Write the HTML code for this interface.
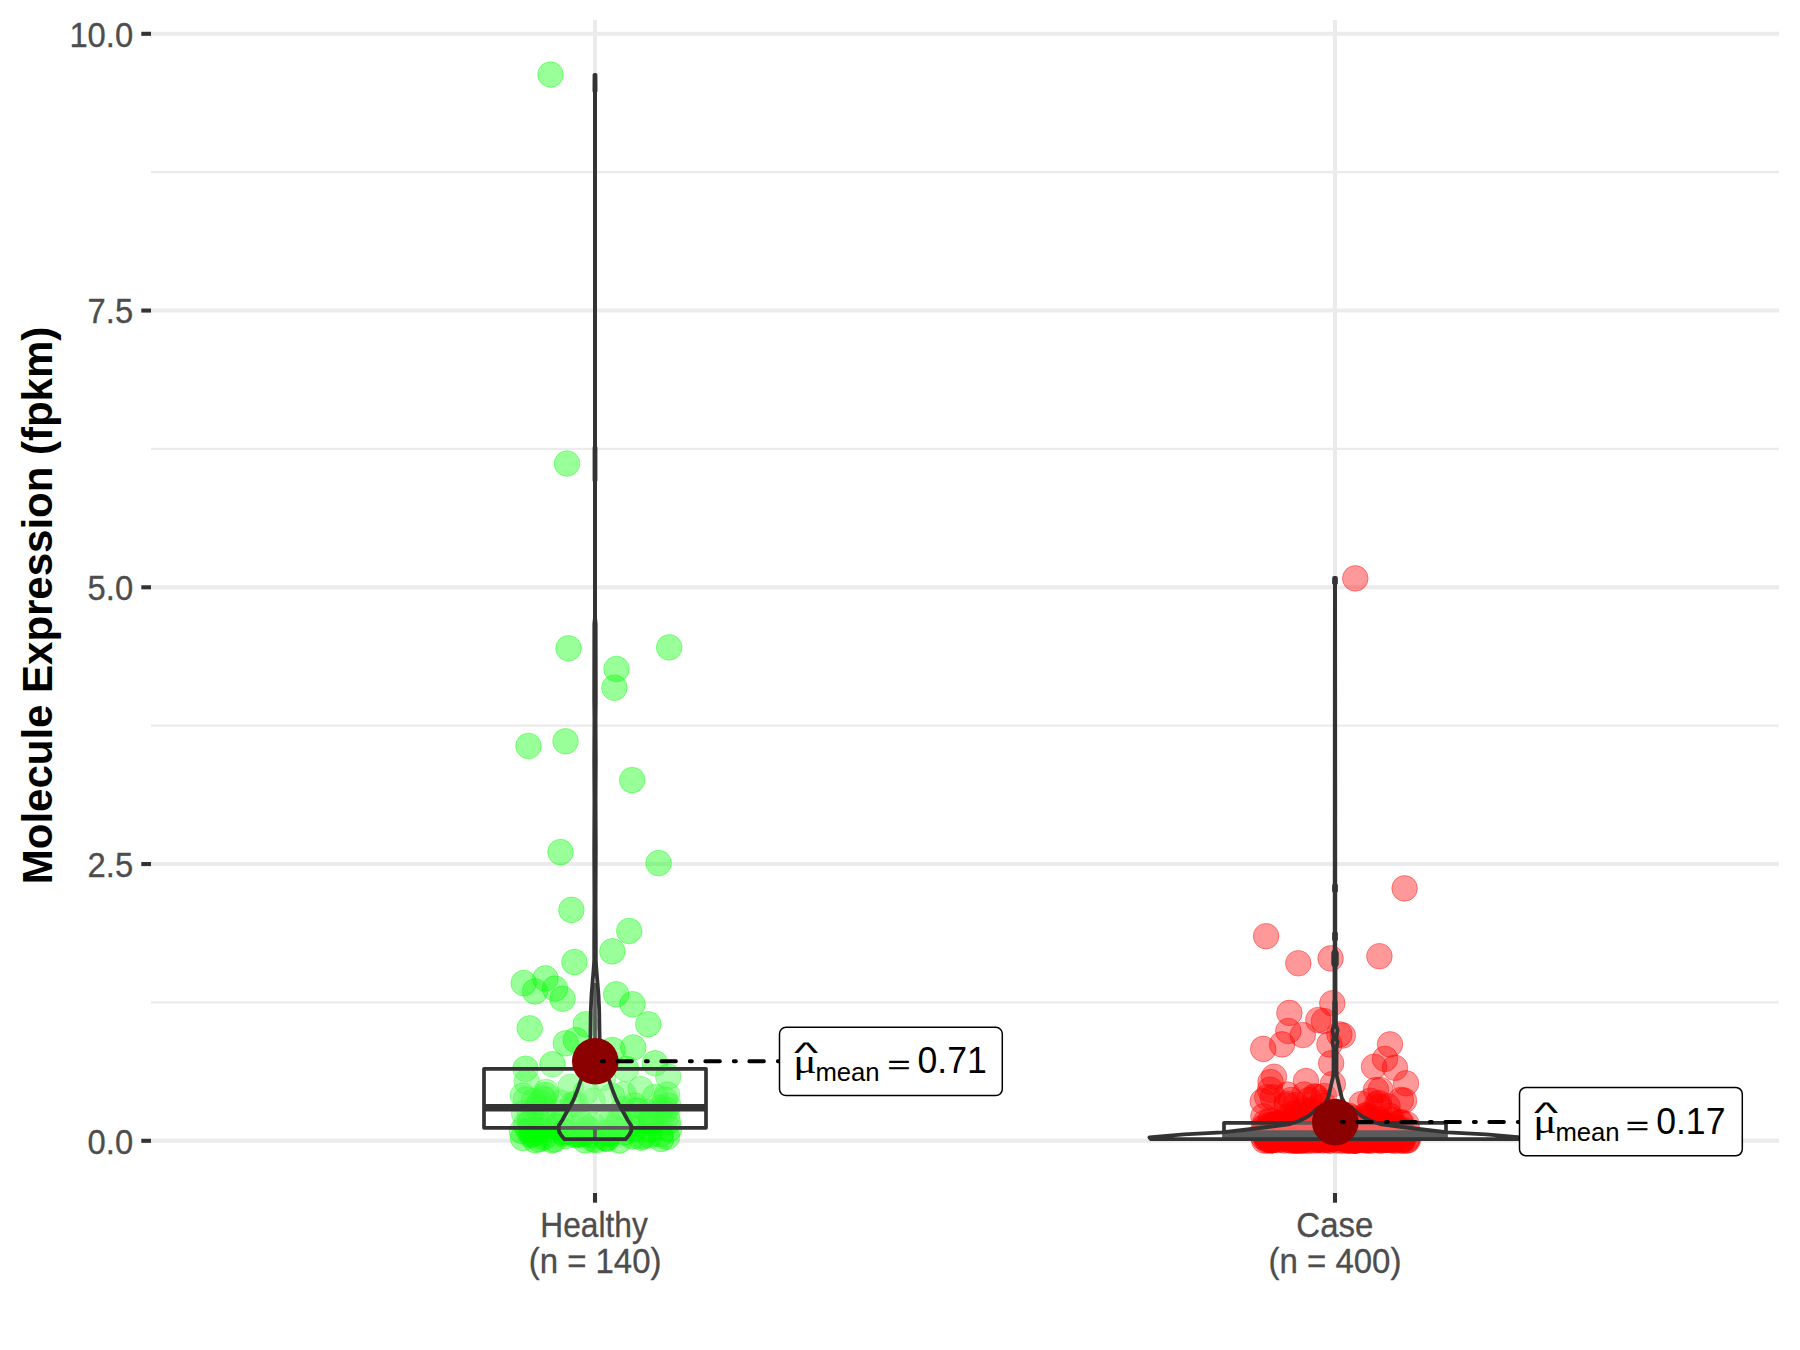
<!DOCTYPE html>
<html lang="en"><head><meta charset="utf-8"><title>Molecule Expression (fpkm)</title>
<style>html,body{margin:0;padding:0;background:#fff;}body{width:1800px;height:1350px;overflow:hidden;}svg{display:block;}text{font-family:"Liberation Sans",Arial,sans-serif;}.ax{font-size:33.3px;fill:#4D4D4D;stroke:#4D4D4D;stroke-width:0.3px;}.ttl{font-size:41.7px;font-weight:bold;fill:#000;}.gp circle{fill:rgba(0,255,0,0.4);stroke:rgba(0,255,0,0.4);stroke-width:1.0;}.rp circle{fill:rgba(255,0,0,0.4);stroke:rgba(255,0,0,0.4);stroke-width:1.0;}</style></head><body>
<svg width="1800" height="1350" viewBox="0 0 1800 1350">
<rect width="1800" height="1350" fill="#fff"/>
<g stroke="#EBEBEB" fill="none">
<line x1="151" x2="1779" y1="1002.42" y2="1002.42" stroke-width="2.2"/>
<line x1="151" x2="1779" y1="725.67" y2="725.67" stroke-width="2.2"/>
<line x1="151" x2="1779" y1="448.92" y2="448.92" stroke-width="2.2"/>
<line x1="151" x2="1779" y1="172.17" y2="172.17" stroke-width="2.2"/>
<line x1="151" x2="1779" y1="1140.80" y2="1140.80" stroke-width="4.0"/>
<line x1="151" x2="1779" y1="864.05" y2="864.05" stroke-width="4.0"/>
<line x1="151" x2="1779" y1="587.30" y2="587.30" stroke-width="4.0"/>
<line x1="151" x2="1779" y1="310.55" y2="310.55" stroke-width="4.0"/>
<line x1="151" x2="1779" y1="33.80" y2="33.80" stroke-width="4.0"/>
<line x1="595.0" x2="595.0" y1="20" y2="1193" stroke-width="4.0"/>
<line x1="1335.0" x2="1335.0" y1="20" y2="1193" stroke-width="4.0"/>
</g>
<g class="gp">
<circle cx="550.5" cy="74.5" r="12.8"/>
<circle cx="567.0" cy="463.5" r="12.8"/>
<circle cx="568.5" cy="648.3" r="12.8"/>
<circle cx="669.2" cy="647.4" r="12.8"/>
<circle cx="616.5" cy="669.0" r="12.8"/>
<circle cx="614.4" cy="687.7" r="12.8"/>
<circle cx="528.5" cy="746.0" r="12.8"/>
<circle cx="565.5" cy="741.3" r="12.8"/>
<circle cx="632.2" cy="780.1" r="12.8"/>
<circle cx="560.5" cy="852.1" r="12.8"/>
<circle cx="658.6" cy="863.1" r="12.8"/>
<circle cx="571.4" cy="909.9" r="12.8"/>
<circle cx="629.2" cy="931.0" r="12.8"/>
<circle cx="612.3" cy="951.4" r="12.8"/>
<circle cx="574.4" cy="962.1" r="12.8"/>
<circle cx="523.7" cy="983.1" r="12.8"/>
<circle cx="545.4" cy="978.4" r="12.8"/>
<circle cx="535.0" cy="991.5" r="12.8"/>
<circle cx="555.0" cy="988.5" r="12.8"/>
<circle cx="562.5" cy="998.8" r="12.8"/>
<circle cx="616.2" cy="994.2" r="12.8"/>
<circle cx="632.5" cy="1004.2" r="12.8"/>
<circle cx="648.3" cy="1024.2" r="12.8"/>
<circle cx="529.7" cy="1028.3" r="12.8"/>
<circle cx="585.8" cy="1024.2" r="12.8"/>
<circle cx="565.8" cy="1043.3" r="12.8"/>
<circle cx="575.8" cy="1040.0" r="12.8"/>
<circle cx="612.5" cy="1050.0" r="12.8"/>
<circle cx="633.3" cy="1047.5" r="12.8"/>
<circle cx="525.5" cy="1068.7" r="12.8"/>
<circle cx="552.5" cy="1064.2" r="12.8"/>
<circle cx="655.0" cy="1063.3" r="12.8"/>
<circle cx="668.3" cy="1076.7" r="12.8"/>
<circle cx="526.7" cy="1081.7" r="12.8"/>
<circle cx="544.0" cy="1137.4" r="12.8"/>
<circle cx="532.6" cy="1134.0" r="12.8"/>
<circle cx="575.4" cy="1135.2" r="12.8"/>
<circle cx="596.1" cy="1140.2" r="12.8"/>
<circle cx="585.3" cy="1140.4" r="12.8"/>
<circle cx="535.2" cy="1140.1" r="12.8"/>
<circle cx="642.7" cy="1136.3" r="12.8"/>
<circle cx="554.6" cy="1139.5" r="12.8"/>
<circle cx="660.4" cy="1134.2" r="12.8"/>
<circle cx="579.9" cy="1134.7" r="12.8"/>
<circle cx="528.8" cy="1130.5" r="12.8"/>
<circle cx="564.3" cy="1131.8" r="12.8"/>
<circle cx="539.2" cy="1139.3" r="12.8"/>
<circle cx="641.2" cy="1137.6" r="12.8"/>
<circle cx="606.9" cy="1138.9" r="12.8"/>
<circle cx="576.4" cy="1134.1" r="12.8"/>
<circle cx="531.2" cy="1135.0" r="12.8"/>
<circle cx="552.1" cy="1140.2" r="12.8"/>
<circle cx="584.4" cy="1133.6" r="12.8"/>
<circle cx="607.5" cy="1137.5" r="12.8"/>
<circle cx="565.8" cy="1136.0" r="12.8"/>
<circle cx="624.1" cy="1132.4" r="12.8"/>
<circle cx="605.9" cy="1138.2" r="12.8"/>
<circle cx="649.8" cy="1135.3" r="12.8"/>
<circle cx="564.0" cy="1133.1" r="12.8"/>
<circle cx="539.2" cy="1130.5" r="12.8"/>
<circle cx="632.5" cy="1136.4" r="12.8"/>
<circle cx="593.4" cy="1139.2" r="12.8"/>
<circle cx="619.6" cy="1140.4" r="12.8"/>
<circle cx="605.7" cy="1132.8" r="12.8"/>
<circle cx="567.8" cy="1131.6" r="12.8"/>
<circle cx="608.8" cy="1133.5" r="12.8"/>
<circle cx="588.6" cy="1134.7" r="12.8"/>
<circle cx="659.9" cy="1111.8" r="12.8"/>
<circle cx="619.0" cy="1119.8" r="12.8"/>
<circle cx="624.4" cy="1128.9" r="12.8"/>
<circle cx="667.0" cy="1116.0" r="12.8"/>
<circle cx="563.6" cy="1112.2" r="12.8"/>
<circle cx="619.6" cy="1121.8" r="12.8"/>
<circle cx="589.4" cy="1129.8" r="12.8"/>
<circle cx="539.1" cy="1126.6" r="12.8"/>
<circle cx="634.2" cy="1129.0" r="12.8"/>
<circle cx="558.2" cy="1127.4" r="12.8"/>
<circle cx="649.2" cy="1121.7" r="12.8"/>
<circle cx="587.6" cy="1128.5" r="12.8"/>
<circle cx="651.0" cy="1118.2" r="12.8"/>
<circle cx="648.1" cy="1112.2" r="12.8"/>
<circle cx="582.6" cy="1124.2" r="12.8"/>
<circle cx="651.1" cy="1122.4" r="12.8"/>
<circle cx="544.0" cy="1109.2" r="12.8"/>
<circle cx="555.9" cy="1126.4" r="12.8"/>
<circle cx="592.8" cy="1125.1" r="12.8"/>
<circle cx="560.4" cy="1117.3" r="12.8"/>
<circle cx="583.2" cy="1130.2" r="12.8"/>
<circle cx="604.7" cy="1122.1" r="12.8"/>
<circle cx="622.8" cy="1109.3" r="12.8"/>
<circle cx="612.2" cy="1118.9" r="12.8"/>
<circle cx="529.9" cy="1115.4" r="12.8"/>
<circle cx="635.9" cy="1110.5" r="12.8"/>
<circle cx="638.5" cy="1111.0" r="12.8"/>
<circle cx="580.3" cy="1121.6" r="12.8"/>
<circle cx="614.6" cy="1128.0" r="12.8"/>
<circle cx="531.8" cy="1128.9" r="12.8"/>
<circle cx="545.7" cy="1125.7" r="12.8"/>
<circle cx="529.7" cy="1122.8" r="12.8"/>
<circle cx="544.1" cy="1130.3" r="12.8"/>
<circle cx="575.1" cy="1128.0" r="12.8"/>
<circle cx="649.7" cy="1129.7" r="12.8"/>
<circle cx="543.7" cy="1098.3" r="12.8"/>
<circle cx="572.7" cy="1104.2" r="12.8"/>
<circle cx="539.9" cy="1102.4" r="12.8"/>
<circle cx="667.0" cy="1094.5" r="12.8"/>
<circle cx="592.6" cy="1100.7" r="12.8"/>
<circle cx="536.9" cy="1106.9" r="12.8"/>
<circle cx="560.7" cy="1102.7" r="12.8"/>
<circle cx="545.6" cy="1094.9" r="12.8"/>
<circle cx="660.8" cy="1107.9" r="12.8"/>
<circle cx="543.4" cy="1099.7" r="12.8"/>
<circle cx="525.9" cy="1099.5" r="12.8"/>
<circle cx="664.9" cy="1099.7" r="12.8"/>
<circle cx="623.6" cy="1094.3" r="12.8"/>
<circle cx="575.5" cy="1104.0" r="12.8"/>
<circle cx="634.7" cy="1105.6" r="12.8"/>
<circle cx="626.0" cy="1069.0" r="12.8"/>
<circle cx="640.6" cy="1089.0" r="12.8"/>
<circle cx="668.3" cy="1105.6" r="12.8"/>
<circle cx="570.6" cy="1086.7" r="12.8"/>
<circle cx="546.0" cy="1092.0" r="12.8"/>
<circle cx="522.8" cy="1095.6" r="12.8"/>
<circle cx="603.0" cy="1078.0" r="12.8"/>
<circle cx="586.0" cy="1092.0" r="12.8"/>
<circle cx="612.0" cy="1096.0" r="12.8"/>
<circle cx="655.0" cy="1097.0" r="12.8"/>
<circle cx="534.0" cy="1101.0" r="12.8"/>
<circle cx="523.0" cy="1138.0" r="12.8"/>
<circle cx="526.0" cy="1125.0" r="12.8"/>
<circle cx="524.0" cy="1113.0" r="12.8"/>
<circle cx="667.0" cy="1137.0" r="12.8"/>
<circle cx="668.0" cy="1122.0" r="12.8"/>
<circle cx="666.0" cy="1110.0" r="12.8"/>
<circle cx="669.0" cy="1129.0" r="12.8"/>
<circle cx="522.0" cy="1131.0" r="12.8"/>
<circle cx="661.0" cy="1139.0" r="12.8"/>
</g>
<g class="rp">
<circle cx="1355.3" cy="578.4" r="12.8"/>
<circle cx="1404.6" cy="888.4" r="12.8"/>
<circle cx="1266.1" cy="936.2" r="12.8"/>
<circle cx="1298.3" cy="963.3" r="12.8"/>
<circle cx="1330.6" cy="958.4" r="12.8"/>
<circle cx="1379.4" cy="956.2" r="12.8"/>
<circle cx="1332.3" cy="1003.3" r="12.8"/>
<circle cx="1289.4" cy="1012.9" r="12.8"/>
<circle cx="1318.3" cy="1020.0" r="12.8"/>
<circle cx="1323.9" cy="1021.0" r="12.8"/>
<circle cx="1288.3" cy="1031.0" r="12.8"/>
<circle cx="1302.8" cy="1035.0" r="12.8"/>
<circle cx="1339.4" cy="1034.4" r="12.8"/>
<circle cx="1342.8" cy="1035.5" r="12.8"/>
<circle cx="1263.2" cy="1048.9" r="12.8"/>
<circle cx="1282.0" cy="1044.4" r="12.8"/>
<circle cx="1329.4" cy="1044.4" r="12.8"/>
<circle cx="1390.0" cy="1044.4" r="12.8"/>
<circle cx="1385.0" cy="1058.9" r="12.8"/>
<circle cx="1374.0" cy="1066.7" r="12.8"/>
<circle cx="1395.0" cy="1067.8" r="12.8"/>
<circle cx="1331.2" cy="1063.3" r="12.8"/>
<circle cx="1406.0" cy="1083.3" r="12.8"/>
<circle cx="1274.0" cy="1076.7" r="12.8"/>
<circle cx="1270.5" cy="1082.0" r="12.8"/>
<circle cx="1306.0" cy="1081.0" r="12.8"/>
<circle cx="1332.8" cy="1084.0" r="12.8"/>
<circle cx="1376.0" cy="1090.0" r="12.8"/>
<circle cx="1380.5" cy="1090.0" r="12.8"/>
<circle cx="1343.7" cy="1139.8" r="12.8"/>
<circle cx="1330.0" cy="1138.8" r="12.8"/>
<circle cx="1347.8" cy="1139.7" r="12.8"/>
<circle cx="1336.7" cy="1140.4" r="12.8"/>
<circle cx="1377.8" cy="1139.4" r="12.8"/>
<circle cx="1306.3" cy="1140.6" r="12.8"/>
<circle cx="1380.2" cy="1140.6" r="12.8"/>
<circle cx="1268.1" cy="1139.3" r="12.8"/>
<circle cx="1402.9" cy="1138.6" r="12.8"/>
<circle cx="1351.9" cy="1139.4" r="12.8"/>
<circle cx="1264.2" cy="1140.5" r="12.8"/>
<circle cx="1270.7" cy="1139.6" r="12.8"/>
<circle cx="1297.3" cy="1140.4" r="12.8"/>
<circle cx="1329.7" cy="1140.7" r="12.8"/>
<circle cx="1385.0" cy="1139.8" r="12.8"/>
<circle cx="1355.5" cy="1139.7" r="12.8"/>
<circle cx="1358.7" cy="1139.7" r="12.8"/>
<circle cx="1302.6" cy="1139.8" r="12.8"/>
<circle cx="1407.4" cy="1138.6" r="12.8"/>
<circle cx="1365.3" cy="1138.9" r="12.8"/>
<circle cx="1295.5" cy="1140.1" r="12.8"/>
<circle cx="1272.3" cy="1140.2" r="12.8"/>
<circle cx="1320.5" cy="1139.1" r="12.8"/>
<circle cx="1318.4" cy="1138.9" r="12.8"/>
<circle cx="1385.7" cy="1138.7" r="12.8"/>
<circle cx="1292.6" cy="1140.8" r="12.8"/>
<circle cx="1330.6" cy="1138.8" r="12.8"/>
<circle cx="1320.0" cy="1138.6" r="12.8"/>
<circle cx="1353.9" cy="1140.6" r="12.8"/>
<circle cx="1301.4" cy="1139.1" r="12.8"/>
<circle cx="1310.6" cy="1140.6" r="12.8"/>
<circle cx="1372.7" cy="1138.7" r="12.8"/>
<circle cx="1298.0" cy="1140.5" r="12.8"/>
<circle cx="1270.7" cy="1140.6" r="12.8"/>
<circle cx="1287.9" cy="1139.0" r="12.8"/>
<circle cx="1327.3" cy="1139.6" r="12.8"/>
<circle cx="1368.9" cy="1140.4" r="12.8"/>
<circle cx="1356.0" cy="1140.5" r="12.8"/>
<circle cx="1323.4" cy="1140.5" r="12.8"/>
<circle cx="1301.4" cy="1140.3" r="12.8"/>
<circle cx="1379.3" cy="1138.7" r="12.8"/>
<circle cx="1391.2" cy="1140.1" r="12.8"/>
<circle cx="1319.6" cy="1140.3" r="12.8"/>
<circle cx="1355.7" cy="1138.9" r="12.8"/>
<circle cx="1406.4" cy="1140.6" r="12.8"/>
<circle cx="1299.7" cy="1140.3" r="12.8"/>
<circle cx="1310.0" cy="1139.1" r="12.8"/>
<circle cx="1272.7" cy="1140.1" r="12.8"/>
<circle cx="1347.1" cy="1140.6" r="12.8"/>
<circle cx="1349.8" cy="1140.3" r="12.8"/>
<circle cx="1328.2" cy="1140.0" r="12.8"/>
<circle cx="1332.6" cy="1138.7" r="12.8"/>
<circle cx="1388.5" cy="1139.5" r="12.8"/>
<circle cx="1284.5" cy="1140.4" r="12.8"/>
<circle cx="1381.4" cy="1138.8" r="12.8"/>
<circle cx="1289.7" cy="1140.2" r="12.8"/>
<circle cx="1399.3" cy="1139.2" r="12.8"/>
<circle cx="1400.7" cy="1140.4" r="12.8"/>
<circle cx="1350.1" cy="1138.8" r="12.8"/>
<circle cx="1277.2" cy="1139.9" r="12.8"/>
<circle cx="1402.6" cy="1140.7" r="12.8"/>
<circle cx="1364.9" cy="1140.3" r="12.8"/>
<circle cx="1382.3" cy="1140.2" r="12.8"/>
<circle cx="1304.8" cy="1139.5" r="12.8"/>
<circle cx="1367.2" cy="1140.4" r="12.8"/>
<circle cx="1295.3" cy="1140.6" r="12.8"/>
<circle cx="1386.5" cy="1139.6" r="12.8"/>
<circle cx="1302.9" cy="1139.4" r="12.8"/>
<circle cx="1291.8" cy="1138.8" r="12.8"/>
<circle cx="1301.3" cy="1140.8" r="12.8"/>
<circle cx="1270.8" cy="1139.8" r="12.8"/>
<circle cx="1315.8" cy="1140.4" r="12.8"/>
<circle cx="1281.2" cy="1139.5" r="12.8"/>
<circle cx="1392.1" cy="1140.0" r="12.8"/>
<circle cx="1357.9" cy="1138.6" r="12.8"/>
<circle cx="1347.3" cy="1139.3" r="12.8"/>
<circle cx="1267.1" cy="1140.5" r="12.8"/>
<circle cx="1394.9" cy="1140.8" r="12.8"/>
<circle cx="1402.6" cy="1139.2" r="12.8"/>
<circle cx="1354.9" cy="1140.8" r="12.8"/>
<circle cx="1368.7" cy="1139.7" r="12.8"/>
<circle cx="1407.9" cy="1140.1" r="12.8"/>
<circle cx="1341.7" cy="1140.6" r="12.8"/>
<circle cx="1393.4" cy="1139.2" r="12.8"/>
<circle cx="1364.7" cy="1139.2" r="12.8"/>
<circle cx="1395.6" cy="1139.0" r="12.8"/>
<circle cx="1362.0" cy="1140.0" r="12.8"/>
<circle cx="1389.2" cy="1138.8" r="12.8"/>
<circle cx="1377.4" cy="1139.9" r="12.8"/>
<circle cx="1345.6" cy="1138.9" r="12.8"/>
<circle cx="1317.8" cy="1139.4" r="12.8"/>
<circle cx="1350.9" cy="1139.5" r="12.8"/>
<circle cx="1355.4" cy="1140.6" r="12.8"/>
<circle cx="1390.4" cy="1138.6" r="12.8"/>
<circle cx="1318.7" cy="1139.2" r="12.8"/>
<circle cx="1346.8" cy="1139.2" r="12.8"/>
<circle cx="1384.4" cy="1139.8" r="12.8"/>
<circle cx="1371.5" cy="1140.6" r="12.8"/>
<circle cx="1349.8" cy="1140.7" r="12.8"/>
<circle cx="1295.6" cy="1139.7" r="12.8"/>
<circle cx="1334.6" cy="1135.5" r="12.8"/>
<circle cx="1396.4" cy="1135.9" r="12.8"/>
<circle cx="1263.7" cy="1137.5" r="12.8"/>
<circle cx="1361.0" cy="1137.3" r="12.8"/>
<circle cx="1286.8" cy="1137.7" r="12.8"/>
<circle cx="1358.4" cy="1134.6" r="12.8"/>
<circle cx="1392.2" cy="1136.6" r="12.8"/>
<circle cx="1359.2" cy="1137.1" r="12.8"/>
<circle cx="1324.9" cy="1137.7" r="12.8"/>
<circle cx="1395.5" cy="1135.0" r="12.8"/>
<circle cx="1318.1" cy="1134.7" r="12.8"/>
<circle cx="1308.2" cy="1136.0" r="12.8"/>
<circle cx="1334.5" cy="1138.0" r="12.8"/>
<circle cx="1385.9" cy="1134.9" r="12.8"/>
<circle cx="1400.7" cy="1135.4" r="12.8"/>
<circle cx="1286.7" cy="1137.4" r="12.8"/>
<circle cx="1302.2" cy="1136.6" r="12.8"/>
<circle cx="1322.4" cy="1137.6" r="12.8"/>
<circle cx="1334.1" cy="1135.8" r="12.8"/>
<circle cx="1384.5" cy="1137.2" r="12.8"/>
<circle cx="1328.1" cy="1134.2" r="12.8"/>
<circle cx="1266.6" cy="1138.3" r="12.8"/>
<circle cx="1268.1" cy="1134.7" r="12.8"/>
<circle cx="1345.3" cy="1135.4" r="12.8"/>
<circle cx="1377.6" cy="1137.2" r="12.8"/>
<circle cx="1281.8" cy="1138.5" r="12.8"/>
<circle cx="1265.6" cy="1136.6" r="12.8"/>
<circle cx="1296.7" cy="1134.9" r="12.8"/>
<circle cx="1268.9" cy="1138.0" r="12.8"/>
<circle cx="1327.2" cy="1135.8" r="12.8"/>
<circle cx="1357.6" cy="1135.8" r="12.8"/>
<circle cx="1401.9" cy="1135.0" r="12.8"/>
<circle cx="1291.1" cy="1135.6" r="12.8"/>
<circle cx="1288.1" cy="1136.5" r="12.8"/>
<circle cx="1330.9" cy="1138.5" r="12.8"/>
<circle cx="1288.1" cy="1135.4" r="12.8"/>
<circle cx="1312.5" cy="1137.4" r="12.8"/>
<circle cx="1338.0" cy="1135.5" r="12.8"/>
<circle cx="1372.4" cy="1135.9" r="12.8"/>
<circle cx="1377.6" cy="1136.8" r="12.8"/>
<circle cx="1274.7" cy="1134.6" r="12.8"/>
<circle cx="1367.5" cy="1134.5" r="12.8"/>
<circle cx="1328.2" cy="1138.0" r="12.8"/>
<circle cx="1394.9" cy="1135.8" r="12.8"/>
<circle cx="1345.0" cy="1136.9" r="12.8"/>
<circle cx="1378.3" cy="1134.7" r="12.8"/>
<circle cx="1329.7" cy="1134.4" r="12.8"/>
<circle cx="1291.9" cy="1135.7" r="12.8"/>
<circle cx="1381.5" cy="1135.4" r="12.8"/>
<circle cx="1366.8" cy="1135.7" r="12.8"/>
<circle cx="1393.4" cy="1137.6" r="12.8"/>
<circle cx="1404.7" cy="1134.2" r="12.8"/>
<circle cx="1377.5" cy="1136.2" r="12.8"/>
<circle cx="1394.9" cy="1137.2" r="12.8"/>
<circle cx="1312.9" cy="1134.8" r="12.8"/>
<circle cx="1326.4" cy="1138.2" r="12.8"/>
<circle cx="1374.2" cy="1136.1" r="12.8"/>
<circle cx="1266.1" cy="1136.4" r="12.8"/>
<circle cx="1271.4" cy="1135.0" r="12.8"/>
<circle cx="1287.2" cy="1135.0" r="12.8"/>
<circle cx="1377.0" cy="1137.1" r="12.8"/>
<circle cx="1283.7" cy="1138.0" r="12.8"/>
<circle cx="1367.6" cy="1136.3" r="12.8"/>
<circle cx="1362.6" cy="1134.9" r="12.8"/>
<circle cx="1333.9" cy="1134.4" r="12.8"/>
<circle cx="1274.6" cy="1134.4" r="12.8"/>
<circle cx="1338.9" cy="1137.6" r="12.8"/>
<circle cx="1368.4" cy="1137.3" r="12.8"/>
<circle cx="1338.3" cy="1135.8" r="12.8"/>
<circle cx="1343.8" cy="1134.9" r="12.8"/>
<circle cx="1317.7" cy="1137.2" r="12.8"/>
<circle cx="1393.5" cy="1134.8" r="12.8"/>
<circle cx="1386.2" cy="1137.7" r="12.8"/>
<circle cx="1338.5" cy="1134.3" r="12.8"/>
<circle cx="1291.3" cy="1136.0" r="12.8"/>
<circle cx="1335.5" cy="1136.2" r="12.8"/>
<circle cx="1266.1" cy="1135.9" r="12.8"/>
<circle cx="1337.3" cy="1134.3" r="12.8"/>
<circle cx="1379.0" cy="1136.8" r="12.8"/>
<circle cx="1333.7" cy="1136.1" r="12.8"/>
<circle cx="1271.6" cy="1135.5" r="12.8"/>
<circle cx="1322.4" cy="1136.2" r="12.8"/>
<circle cx="1396.8" cy="1134.3" r="12.8"/>
<circle cx="1331.1" cy="1137.4" r="12.8"/>
<circle cx="1325.3" cy="1138.0" r="12.8"/>
<circle cx="1393.5" cy="1135.0" r="12.8"/>
<circle cx="1308.3" cy="1136.5" r="12.8"/>
<circle cx="1352.2" cy="1137.7" r="12.8"/>
<circle cx="1280.9" cy="1134.5" r="12.8"/>
<circle cx="1265.3" cy="1135.1" r="12.8"/>
<circle cx="1295.2" cy="1137.7" r="12.8"/>
<circle cx="1309.0" cy="1135.5" r="12.8"/>
<circle cx="1352.5" cy="1137.0" r="12.8"/>
<circle cx="1368.7" cy="1138.1" r="12.8"/>
<circle cx="1336.5" cy="1138.0" r="12.8"/>
<circle cx="1290.9" cy="1137.5" r="12.8"/>
<circle cx="1325.8" cy="1136.2" r="12.8"/>
<circle cx="1322.4" cy="1136.9" r="12.8"/>
<circle cx="1285.3" cy="1136.2" r="12.8"/>
<circle cx="1354.2" cy="1137.7" r="12.8"/>
<circle cx="1339.3" cy="1126.6" r="12.8"/>
<circle cx="1351.3" cy="1124.1" r="12.8"/>
<circle cx="1296.0" cy="1124.0" r="12.8"/>
<circle cx="1380.3" cy="1125.4" r="12.8"/>
<circle cx="1308.1" cy="1123.5" r="12.8"/>
<circle cx="1396.7" cy="1130.4" r="12.8"/>
<circle cx="1407.8" cy="1131.6" r="12.8"/>
<circle cx="1281.6" cy="1123.6" r="12.8"/>
<circle cx="1368.1" cy="1131.3" r="12.8"/>
<circle cx="1276.2" cy="1131.1" r="12.8"/>
<circle cx="1323.6" cy="1124.3" r="12.8"/>
<circle cx="1280.4" cy="1124.8" r="12.8"/>
<circle cx="1362.0" cy="1129.4" r="12.8"/>
<circle cx="1291.3" cy="1133.9" r="12.8"/>
<circle cx="1395.1" cy="1126.1" r="12.8"/>
<circle cx="1278.8" cy="1122.7" r="12.8"/>
<circle cx="1372.7" cy="1128.2" r="12.8"/>
<circle cx="1362.1" cy="1128.2" r="12.8"/>
<circle cx="1272.3" cy="1131.9" r="12.8"/>
<circle cx="1267.5" cy="1132.9" r="12.8"/>
<circle cx="1337.2" cy="1127.6" r="12.8"/>
<circle cx="1283.4" cy="1127.4" r="12.8"/>
<circle cx="1291.8" cy="1132.0" r="12.8"/>
<circle cx="1406.6" cy="1124.2" r="12.8"/>
<circle cx="1275.9" cy="1123.2" r="12.8"/>
<circle cx="1400.9" cy="1133.4" r="12.8"/>
<circle cx="1373.6" cy="1128.7" r="12.8"/>
<circle cx="1330.2" cy="1130.3" r="12.8"/>
<circle cx="1324.8" cy="1128.1" r="12.8"/>
<circle cx="1263.9" cy="1127.0" r="12.8"/>
<circle cx="1385.3" cy="1125.9" r="12.8"/>
<circle cx="1328.3" cy="1132.0" r="12.8"/>
<circle cx="1321.2" cy="1125.4" r="12.8"/>
<circle cx="1286.1" cy="1131.8" r="12.8"/>
<circle cx="1264.3" cy="1128.1" r="12.8"/>
<circle cx="1379.0" cy="1123.6" r="12.8"/>
<circle cx="1387.7" cy="1125.8" r="12.8"/>
<circle cx="1321.1" cy="1126.7" r="12.8"/>
<circle cx="1335.6" cy="1127.1" r="12.8"/>
<circle cx="1379.5" cy="1122.5" r="12.8"/>
<circle cx="1395.0" cy="1131.1" r="12.8"/>
<circle cx="1375.6" cy="1125.3" r="12.8"/>
<circle cx="1321.2" cy="1124.5" r="12.8"/>
<circle cx="1390.5" cy="1123.5" r="12.8"/>
<circle cx="1374.0" cy="1125.9" r="12.8"/>
<circle cx="1321.2" cy="1125.1" r="12.8"/>
<circle cx="1272.3" cy="1125.6" r="12.8"/>
<circle cx="1330.5" cy="1130.1" r="12.8"/>
<circle cx="1313.9" cy="1134.0" r="12.8"/>
<circle cx="1353.1" cy="1126.6" r="12.8"/>
<circle cx="1399.9" cy="1131.4" r="12.8"/>
<circle cx="1311.3" cy="1126.3" r="12.8"/>
<circle cx="1345.2" cy="1126.3" r="12.8"/>
<circle cx="1318.9" cy="1127.8" r="12.8"/>
<circle cx="1355.8" cy="1122.3" r="12.8"/>
<circle cx="1373.2" cy="1125.9" r="12.8"/>
<circle cx="1265.3" cy="1122.5" r="12.8"/>
<circle cx="1369.9" cy="1126.9" r="12.8"/>
<circle cx="1320.6" cy="1131.1" r="12.8"/>
<circle cx="1290.5" cy="1133.6" r="12.8"/>
<circle cx="1276.4" cy="1129.7" r="12.8"/>
<circle cx="1394.2" cy="1131.2" r="12.8"/>
<circle cx="1336.1" cy="1127.6" r="12.8"/>
<circle cx="1344.9" cy="1122.7" r="12.8"/>
<circle cx="1355.1" cy="1122.4" r="12.8"/>
<circle cx="1273.1" cy="1124.6" r="12.8"/>
<circle cx="1372.9" cy="1127.1" r="12.8"/>
<circle cx="1397.8" cy="1133.6" r="12.8"/>
<circle cx="1330.9" cy="1132.3" r="12.8"/>
<circle cx="1334.3" cy="1132.2" r="12.8"/>
<circle cx="1270.5" cy="1126.9" r="12.8"/>
<circle cx="1323.4" cy="1123.0" r="12.8"/>
<circle cx="1349.3" cy="1127.9" r="12.8"/>
<circle cx="1303.7" cy="1129.8" r="12.8"/>
<circle cx="1343.9" cy="1126.4" r="12.8"/>
<circle cx="1366.6" cy="1130.8" r="12.8"/>
<circle cx="1264.0" cy="1130.7" r="12.8"/>
<circle cx="1268.2" cy="1131.3" r="12.8"/>
<circle cx="1372.2" cy="1132.3" r="12.8"/>
<circle cx="1393.0" cy="1129.5" r="12.8"/>
<circle cx="1269.3" cy="1125.3" r="12.8"/>
<circle cx="1399.9" cy="1122.4" r="12.8"/>
<circle cx="1394.2" cy="1133.3" r="12.8"/>
<circle cx="1331.7" cy="1129.1" r="12.8"/>
<circle cx="1297.6" cy="1122.6" r="12.8"/>
<circle cx="1398.8" cy="1128.0" r="12.8"/>
<circle cx="1330.4" cy="1125.6" r="12.8"/>
<circle cx="1381.2" cy="1122.6" r="12.8"/>
<circle cx="1278.8" cy="1127.0" r="12.8"/>
<circle cx="1328.5" cy="1126.8" r="12.8"/>
<circle cx="1269.6" cy="1131.7" r="12.8"/>
<circle cx="1280.2" cy="1127.9" r="12.8"/>
<circle cx="1359.5" cy="1128.9" r="12.8"/>
<circle cx="1300.3" cy="1128.8" r="12.8"/>
<circle cx="1323.3" cy="1127.3" r="12.8"/>
<circle cx="1339.5" cy="1124.9" r="12.8"/>
<circle cx="1401.1" cy="1122.3" r="12.8"/>
<circle cx="1296.8" cy="1125.5" r="12.8"/>
<circle cx="1392.3" cy="1132.8" r="12.8"/>
<circle cx="1353.2" cy="1124.9" r="12.8"/>
<circle cx="1310.8" cy="1112.7" r="12.8"/>
<circle cx="1291.2" cy="1100.0" r="12.8"/>
<circle cx="1286.6" cy="1103.8" r="12.8"/>
<circle cx="1316.3" cy="1097.0" r="12.8"/>
<circle cx="1263.4" cy="1116.3" r="12.8"/>
<circle cx="1270.1" cy="1089.7" r="12.8"/>
<circle cx="1324.9" cy="1121.8" r="12.8"/>
<circle cx="1300.5" cy="1115.6" r="12.8"/>
<circle cx="1322.1" cy="1102.6" r="12.8"/>
<circle cx="1324.1" cy="1105.9" r="12.8"/>
<circle cx="1283.7" cy="1120.8" r="12.8"/>
<circle cx="1286.7" cy="1105.5" r="12.8"/>
<circle cx="1296.9" cy="1112.2" r="12.8"/>
<circle cx="1306.0" cy="1117.5" r="12.8"/>
<circle cx="1272.8" cy="1097.4" r="12.8"/>
<circle cx="1321.0" cy="1121.1" r="12.8"/>
<circle cx="1287.2" cy="1094.6" r="12.8"/>
<circle cx="1314.7" cy="1096.4" r="12.8"/>
<circle cx="1311.7" cy="1110.3" r="12.8"/>
<circle cx="1304.3" cy="1094.5" r="12.8"/>
<circle cx="1262.7" cy="1101.3" r="12.8"/>
<circle cx="1292.2" cy="1113.8" r="12.8"/>
<circle cx="1267.3" cy="1097.3" r="12.8"/>
<circle cx="1304.3" cy="1110.2" r="12.8"/>
<circle cx="1270.4" cy="1120.6" r="12.8"/>
<circle cx="1323.4" cy="1121.0" r="12.8"/>
<circle cx="1296.5" cy="1105.0" r="12.8"/>
<circle cx="1309.0" cy="1100.0" r="12.8"/>
<circle cx="1323.9" cy="1096.1" r="12.8"/>
<circle cx="1284.6" cy="1117.4" r="12.8"/>
<circle cx="1361.4" cy="1121.4" r="12.8"/>
<circle cx="1387.5" cy="1106.3" r="12.8"/>
<circle cx="1350.6" cy="1117.6" r="12.8"/>
<circle cx="1389.6" cy="1115.9" r="12.8"/>
<circle cx="1348.9" cy="1115.7" r="12.8"/>
<circle cx="1379.1" cy="1106.7" r="12.8"/>
<circle cx="1404.0" cy="1100.5" r="12.8"/>
<circle cx="1370.3" cy="1100.7" r="12.8"/>
<circle cx="1361.4" cy="1104.0" r="12.8"/>
<circle cx="1367.8" cy="1116.8" r="12.8"/>
<circle cx="1400.9" cy="1100.0" r="12.8"/>
<circle cx="1365.2" cy="1118.3" r="12.8"/>
<circle cx="1365.3" cy="1115.7" r="12.8"/>
<circle cx="1367.0" cy="1115.0" r="12.8"/>
<circle cx="1378.8" cy="1119.4" r="12.8"/>
<circle cx="1377.2" cy="1104.2" r="12.8"/>
<circle cx="1378.7" cy="1103.0" r="12.8"/>
<circle cx="1391.8" cy="1119.8" r="12.8"/>
</g>
<g stroke="#333333" fill="none" stroke-linejoin="round">
<line x1="595.0" x2="595.0" y1="1068.8" y2="983.0" stroke-width="3.7"/>
<line x1="595.0" x2="595.0" y1="1127.8" y2="1139.0" stroke-width="3.7"/>
<rect x="484.0" y="1068.8" width="222.0" height="59.0" fill="rgba(255,255,255,0.2)" stroke-width="3.7"/>
<line x1="484.0" x2="706.0" y1="1107.8" y2="1107.8" stroke-width="7.5"/>
</g>
<g stroke="#333333" fill="none" stroke-linejoin="round">
<line x1="1335.0" x2="1335.0" y1="1122.8" y2="1100.0" stroke-width="3.7"/>
<line x1="1335.0" x2="1335.0" y1="1138.0" y2="1140.0" stroke-width="3.7"/>
<rect x="1224.0" y="1122.8" width="222.0" height="15.2" fill="rgba(255,255,255,0.2)" stroke-width="3.7"/>
<line x1="1224.0" x2="1446.0" y1="1134.0" y2="1134.0" stroke-width="7.5"/>
</g>
<path d="M594.5,74.8 L594.4,91.0 L594.9,92.0 L594.9,446.0 L594.5,448.0 L594.5,480.0 L594.9,482.0 L594.9,618.0 L594.3,624.0 L594.2,700.0 L594.4,720.0 L594.2,760.0 L594.4,800.0 L594.2,850.0 L594.4,900.0 L594.2,940.0 L594.2,960.0 L593.8,967.0 L592.5,983.0 L591.5,995.0 L590.8,1010.0 L590.4,1038.0 L588.0,1060.0 L584.0,1072.0 L581.3,1079.0 L577.5,1090.0 L573.5,1100.0 L570.0,1106.7 L566.2,1113.0 L562.4,1120.0 L558.8,1125.6 L558.8,1131.0 L561.0,1135.0 L564.5,1139.2 L625.5,1139.2 L629.0,1135.0 L631.2,1131.0 L631.2,1125.6 L627.6,1120.0 L623.8,1113.0 L620.0,1106.7 L616.5,1100.0 L612.5,1090.0 L608.7,1079.0 L606.0,1072.0 L602.0,1060.0 L599.6,1038.0 L599.2,1010.0 L598.5,995.0 L597.5,983.0 L596.2,967.0 L595.8,960.0 L595.8,940.0 L595.6,900.0 L595.8,850.0 L595.6,800.0 L595.8,760.0 L595.6,720.0 L595.8,700.0 L595.7,624.0 L595.1,618.0 L595.1,482.0 L595.5,480.0 L595.5,448.0 L595.1,446.0 L595.1,92.0 L595.6,91.0 L595.5,74.8 Z" fill="rgba(255,255,255,0.2)" stroke="#333333" stroke-width="3.8" stroke-linejoin="round"/>
<path d="M1334.1,578.0 L1334.0,583.0 L1334.9,584.0 L1334.8,700.0 L1334.7,884.0 L1334.0,885.5 L1334.0,891.0 L1334.7,892.5 L1334.7,932.0 L1334.0,933.5 L1334.0,939.5 L1334.7,941.0 L1334.6,950.0 L1333.2,953.0 L1333.2,964.0 L1334.5,967.0 L1334.5,1000.0 L1334.1,1003.0 L1334.1,1025.0 L1332.4,1030.0 L1333.8,1038.0 L1332.4,1042.0 L1333.5,1048.0 L1333.5,1060.0 L1333.5,1070.0 L1333.2,1076.0 L1331.8,1082.0 L1330.0,1090.0 L1328.2,1098.0 L1325.0,1104.0 L1318.0,1108.0 L1312.5,1113.0 L1307.0,1117.0 L1299.0,1121.0 L1290.0,1124.0 L1268.0,1127.0 L1243.0,1130.0 L1222.0,1132.3 L1184.0,1134.3 L1149.4,1137.4 L1151.0,1139.2 L1519.0,1139.2 L1520.6,1137.4 L1486.0,1134.3 L1448.0,1132.3 L1427.0,1130.0 L1402.0,1127.0 L1380.0,1124.0 L1371.0,1121.0 L1363.0,1117.0 L1357.5,1113.0 L1352.0,1108.0 L1345.0,1104.0 L1341.8,1098.0 L1340.0,1090.0 L1338.2,1082.0 L1336.8,1076.0 L1336.5,1070.0 L1336.5,1060.0 L1336.5,1048.0 L1337.6,1042.0 L1336.2,1038.0 L1337.6,1030.0 L1335.9,1025.0 L1335.9,1003.0 L1335.5,1000.0 L1335.5,967.0 L1336.8,964.0 L1336.8,953.0 L1335.4,950.0 L1335.3,941.0 L1336.0,939.5 L1336.0,933.5 L1335.3,932.0 L1335.3,892.5 L1336.0,891.0 L1336.0,885.5 L1335.3,884.0 L1335.2,700.0 L1335.1,584.0 L1336.0,583.0 L1335.9,578.0 Z" fill="rgba(255,255,255,0.2)" stroke="#333333" stroke-width="3.8" stroke-linejoin="round"/>
<circle cx="595.3" cy="1061.3" r="23.3" fill="#8B0000"/>
<circle cx="1335.3" cy="1122.1" r="23.3" fill="#8B0000"/>
<line x1="601.8" x2="779.5" y1="1061.2" y2="1061.2" stroke="#000" stroke-width="3.9" stroke-linecap="round" stroke-dasharray="2.1 13.4 14.6 13.9"/>
<rect x="779.5" y="1027.3" width="222.8" height="68.3" rx="6.5" ry="6.5" fill="#fff" stroke="#000" stroke-width="1.5"/>
<g fill="#000">
<text transform="translate(793.3,1073.0) scale(1.13,0.86)" style="font-family:'Liberation Serif','DejaVu Serif',serif;font-size:38.5px">μ</text>
<text transform="translate(806.0,1062.6) scale(1.29,0.76)" text-anchor="middle" style="font-size:40px">^</text>
<text x="815.4" y="1080.8" style="font-size:25.7px">mean</text>
<text transform="translate(887.4,1073.3) scale(1.105,0.72)" style="font-size:35.6px;stroke:#000;stroke-width:0.5px">=</text>
<text transform="translate(917.5,1073.4) scale(1.0,1.04)" style="font-size:35.6px">0.71</text>
</g>
<line x1="1341.8" x2="1519.5" y1="1122.0" y2="1122.0" stroke="#000" stroke-width="3.9" stroke-linecap="round" stroke-dasharray="2.1 13.4 14.6 13.9"/>
<rect x="1519.5" y="1087.5" width="222.8" height="68.3" rx="6.5" ry="6.5" fill="#fff" stroke="#000" stroke-width="1.5"/>
<g fill="#000">
<text transform="translate(1533.3,1133.2) scale(1.13,0.86)" style="font-family:'Liberation Serif','DejaVu Serif',serif;font-size:38.5px">μ</text>
<text transform="translate(1546.0,1122.8) scale(1.29,0.76)" text-anchor="middle" style="font-size:40px">^</text>
<text x="1555.4" y="1141.0" style="font-size:25.7px">mean</text>
<text transform="translate(1626.1,1133.5) scale(1.105,0.72)" style="font-size:35.6px;stroke:#000;stroke-width:0.5px">=</text>
<text transform="translate(1656.2,1133.6) scale(1.0,1.04)" style="font-size:35.6px">0.17</text>
</g>
<g stroke="#333333" stroke-width="4.1">
<line x1="141.3" x2="151" y1="1140.80" y2="1140.80"/>
<line x1="141.3" x2="151" y1="864.05" y2="864.05"/>
<line x1="141.3" x2="151" y1="587.30" y2="587.30"/>
<line x1="141.3" x2="151" y1="310.55" y2="310.55"/>
<line x1="141.3" x2="151" y1="33.80" y2="33.80"/>
<line x1="595.0" x2="595.0" y1="1193" y2="1202.7"/>
<line x1="1335.0" x2="1335.0" y1="1193" y2="1202.7"/>
</g>
<text class="ax" transform="translate(133.2,1153.7) scale(0.985,1.03)" text-anchor="end">0.0</text>
<text class="ax" transform="translate(133.2,876.9) scale(0.985,1.03)" text-anchor="end">2.5</text>
<text class="ax" transform="translate(133.2,600.2) scale(0.985,1.03)" text-anchor="end">5.0</text>
<text class="ax" transform="translate(133.2,323.4) scale(0.985,1.03)" text-anchor="end">7.5</text>
<text class="ax" transform="translate(133.2,46.7) scale(0.985,1.03)" text-anchor="end">10.0</text>
<text class="ax" transform="translate(594.0,1236.6) scale(0.953,1.03)" text-anchor="middle">Healthy</text>
<text class="ax" transform="translate(595.1,1272.8) scale(0.99,1.03)" text-anchor="middle">(n = 140)</text>
<text class="ax" transform="translate(1334.8,1236.6) scale(0.99,1.03)" text-anchor="middle">Case</text>
<text class="ax" transform="translate(1335.0,1272.8) scale(0.99,1.03)" text-anchor="middle">(n = 400)</text>
<text class="ttl" transform="translate(52.0,605.5) rotate(-90) scale(1.007,1.0)" text-anchor="middle">Molecule Expression (fpkm)</text>
</svg></body></html>
